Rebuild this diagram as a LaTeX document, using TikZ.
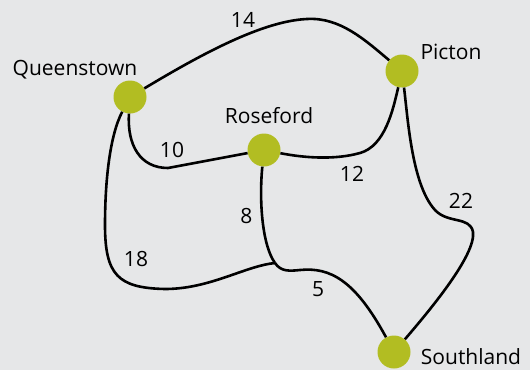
\documentclass[tikz,border=0pt]{standalone}
\usepackage{fontspec}
\setmainfont{Open Sans}
\definecolor{dot}{HTML}{B2BD22}
\definecolor{bg}{HTML}{E6E7E8}
\begin{document}
\begin{tikzpicture}[x=1pt, y=-1pt,
	c/.style={circle, fill=dot, inner sep=0, minimum size=33pt},
	l/.style={font=\fontsize{21}{24}\selectfont, anchor=base},
	e/.style={line width=2.6pt, line join=round}]
	\fill[bg] (0,0) rectangle (530,370);
	\useasboundingbox (0,0) rectangle (530,370);

	\node[c] (qt) at (130,97) {};
	\node[c] (pc) at (402,71) {};
	\node[c] (rf) at (264,150) {};
	\node[c] (sl) at (394,352) {};
	\coordinate (j) at (275,263);

	\node[l] (nqt) at (75,75) {Queenstown};
	\node[l] (npc) at (451,59) {Picton};
	\node[l] (nrf) at (269,123) {Roseford};
	\node[l] (nsl) at (471,364) {Southland};

	\draw[e] (qt) .. controls (200,55) and (262,21) .. (307,19) .. controls (340,17) and (365,40) .. (pc);
	\draw[e] (qt) .. controls (127,145) and (140,168) .. (168,168) -- (rf);
	\draw[e] (rf) .. controls (305,158) and (335,160) .. (360,153) .. controls (385,146) and (393,110) .. (pc);
	\draw[e] (pc) .. controls (408,120) and (412,185) .. (435,210) .. controls (448,224) and (470,216) .. (473,232) .. controls (476,255) and (430,310) .. (sl);
	\draw[e] (qt) .. controls (110,135) and (105,180) .. (105,225) .. controls (105,275) and (118,288) .. (165,289) .. controls (210,289) and (245,266) .. (j);
	\draw[e] (rf) .. controls (259,200) and (262,245) .. (j);
	\draw[e] (j) .. controls (281,272) and (290,271) .. (300,270) .. controls (330,267) and (355,280) .. (sl);

	\node[l] (w14) at (243,27) {14};
	\node[l] (w10) at (172,157) {10};
	\node[l] (w12) at (352,181) {12};
	\node[l] (w22) at (461,208) {22};
	\node[l] (w8) at (246.5,223) {8};
	\node[l] (w18) at (136,266) {18};
	\node[l] (w5) at (318,296) {5};
\end{tikzpicture}
\end{document}
